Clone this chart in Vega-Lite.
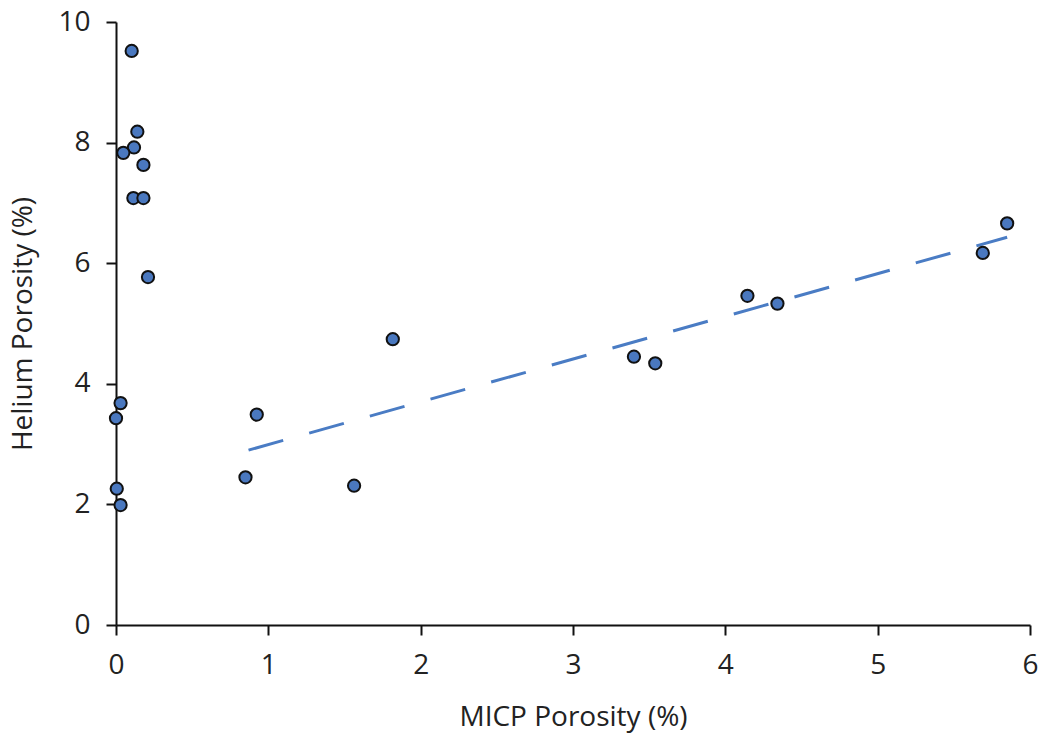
{
  "$schema": "https://vega.github.io/schema/vega-lite/v6.json",
  "autosize": "none",
  "width": 914,
  "height": 603,
  "padding": {"left": 116, "top": 22, "right": 12, "bottom": 108},
  "background": "white",
  "config": {
    "view": {"stroke": null},
    "font": "Open Sans",
    "axis": {
      "grid": false,
      "domainColor": "#111",
      "domainWidth": 2,
      "tickColor": "#111",
      "tickWidth": 2,
      "tickSize": 10,
      "labelFont": "Open Sans",
      "labelFontSize": 28,
      "labelColor": "#222",
      "labelPadding": 16,
      "labelFlush": false,
      "labelOverlap": false,
      "titleFont": "Open Sans",
      "titleFontSize": 28,
      "titleFontWeight": "normal",
      "titleColor": "#222"
    }
  },
  "datasets": {
    "pts": [
      {"micp": 0.103, "helium": 9.52},
      {"micp": 0.14, "helium": 8.18},
      {"micp": 0.118, "helium": 7.92},
      {"micp": 0.048, "helium": 7.83},
      {"micp": 0.18, "helium": 7.63},
      {"micp": 0.114, "helium": 7.08},
      {"micp": 0.18, "helium": 7.08},
      {"micp": 0.21, "helium": 5.77},
      {"micp": 0.03, "helium": 3.68},
      {"micp": 0.0, "helium": 3.43},
      {"micp": 0.005, "helium": 2.26},
      {"micp": 0.03, "helium": 1.99},
      {"micp": 0.85, "helium": 2.45},
      {"micp": 0.924, "helium": 3.49},
      {"micp": 1.563, "helium": 2.31},
      {"micp": 1.817, "helium": 4.74},
      {"micp": 3.40, "helium": 4.45},
      {"micp": 3.54, "helium": 4.34},
      {"micp": 4.145, "helium": 5.46},
      {"micp": 4.342, "helium": 5.33},
      {"micp": 5.69, "helium": 6.17},
      {"micp": 5.85, "helium": 6.66}
    ],
    "trend": [
      {"micp": 0.87, "helium": 2.90},
      {"micp": 5.85, "helium": 6.43}
    ]
  },
  "layer": [
    {
      "data": {"name": "trend"},
      "mark": {"type": "line", "color": "#4a7cc4", "strokeWidth": 3, "strokeDash": [36, 27]},
      "encoding": {
        "x": {"field": "micp", "type": "quantitative"},
        "y": {"field": "helium", "type": "quantitative"}
      }
    },
    {
      "data": {"name": "pts"},
      "mark": {"type": "point", "filled": true, "fill": "#4a78bf", "stroke": "#111", "strokeWidth": 2, "size": 150, "opacity": 1},
      "encoding": {
        "x": {
          "field": "micp", "type": "quantitative",
          "scale": {"domain": [0, 6], "nice": false, "zero": true},
          "axis": {"values": [0, 1, 2, 3, 4, 5, 6], "format": "d", "title": "MICP Porosity (%)", "titlePadding": 24}
        },
        "y": {
          "field": "helium", "type": "quantitative",
          "scale": {"domain": [0, 10], "nice": false},
          "axis": {"values": [0, 2, 4, 6, 8, 10], "format": "d", "title": "Helium Porosity (%)", "titlePadding": 20}
        }
      }
    }
  ]
}
